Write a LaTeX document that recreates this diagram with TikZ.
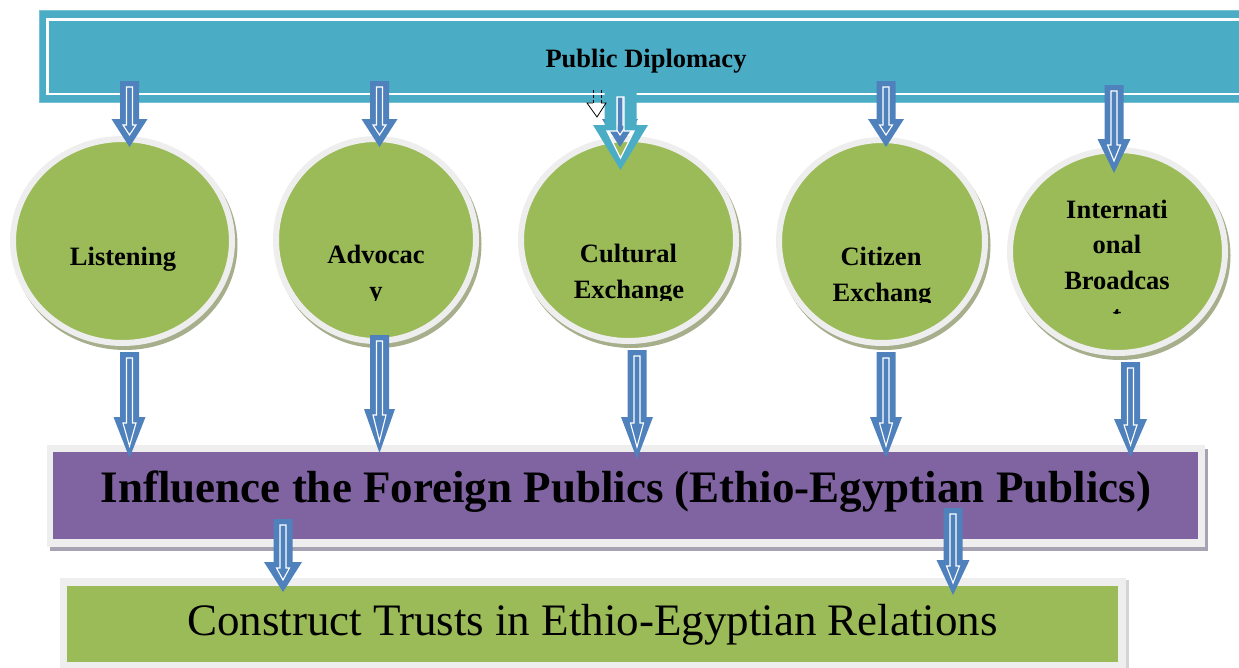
\documentclass[tikz,border=0pt]{standalone}
\usepackage{fontspec}
\setmainfont{Liberation Serif}
\usetikzlibrary{shapes.geometric}
\definecolor{tealbox}{HTML}{4BACC6}
\definecolor{arrowblue}{HTML}{4F81BD}
\definecolor{grn}{HTML}{9BBB59}
\definecolor{purp}{HTML}{8064A2}
\definecolor{ringgray}{HTML}{EEEEEE}
\definecolor{cshadow}{HTML}{A6AE8C}
\definecolor{pshadow}{HTML}{A8A3B3}
\definecolor{gshadow}{HTML}{D4D4D4}
\tikzset{
  circ/.style={ellipse, fill=grn, draw=ringgray, line width=6pt, inner sep=0pt, outer sep=0pt},
  lbl/.style={anchor=base, inner sep=0pt, font=\bfseries\fontsize{26.5}{30}\selectfont},
  bigbold/.style={anchor=base, inner sep=0pt, font=\bfseries\fontsize{45}{50}\selectfont},
  bigreg/.style={anchor=base, inner sep=0pt, font=\fontsize{45}{50}\selectfont},
  plainbox/.style={inner sep=0pt, outer sep=0pt},
}
% cx, ytop, yhead, ytip, head half width
\newcommand{\darrow}[5]{%
  \fill[arrowblue] ({#1-9.5},#2) -- ({#1+9.5},#2) -- ({#1+9.5},#3) -- ({#1+#5},#3) -- (#1,#4) -- ({#1-#5},#3) -- ({#1-9.5},#3) -- cycle;
  \draw[white, line width=1.1pt, line join=miter] ({#1-3},{#2+6}) -- ({#1+3},{#2+6}) -- ({#1+3},{#3+6}) -- ({#1+6.5},{#3+6}) -- (#1,{#4-12}) -- ({#1-6.5},{#3+6}) -- ({#1-3},{#3+6}) -- cycle;
}
% name, cx, cy, rx, ry (green radii)
\newcommand{\bubble}[5]{%
  \fill[cshadow] ({#2+2.5},{#3+4}) ellipse [x radius={#4+6}, y radius={#5+6}];
  \node[circ, minimum width={2*(#4+3)}, minimum height={2*(#5+3)}] (#1) at (#2,#3) {};
}
\begin{document}
\begin{tikzpicture}[x=1pt,y=-1pt]
\path[use as bounding box] (0,0) rectangle (1239,667);
\clip (0,0) rectangle (1239,667);

% ---- top box
\node[plainbox, fill=tealbox, draw=tealbox!75!white, line width=0.6pt, minimum width=1230pt, minimum height=92pt, anchor=north west] (PD) at (39,10) {};
\draw[white, line width=2.5pt] (47.5,19.5) rectangle (1290,94);
\node[lbl] (pdt) at (646,67) {Public Diplomacy};

% ---- circles
\bubble{L}{122.5}{241}{106.5}{99}
\bubble{A}{376}{240}{97}{98}
\bubble{C}{628.5}{240}{104.5}{98}
\bubble{Z}{882}{241.5}{100}{98.5}
\bubble{I}{1117.5}{251.5}{104.5}{98.5}

\node[lbl] (Lt) at (123,265) {Listening};
\begin{scope}
  \clip (260,150) rectangle (490,300);
  \node[lbl] (At1) at (376,263) {Advocac};
  \node[lbl] (At2) at (376,299) {y};
\end{scope}
\begin{scope}
  \clip (510,150) rectangle (750,300);
  \node[lbl] (Ct1) at (628.5,262) {Cultural};
  \node[lbl] (Ct2) at (629,298) {Exchange};
\end{scope}
\begin{scope}
  \clip (770,150) rectangle (1000,302);
  \node[lbl] (Zt1) at (881,265) {Citizen};
  \node[lbl] (Zt2) at (882,301) {Exchang};
\end{scope}
\begin{scope}
  \clip (1000,150) rectangle (1235,313);
  \node[lbl] (It1) at (1117,218) {Internati};
  \node[lbl] (It2) at (1117,253.5) {onal};
  \node[lbl] (It3) at (1117,289) {Broadcas};
  \node[lbl] (It4) at (1117,324.5) {t};
\end{scope}

% ---- purple box
\fill[pshadow] (50,449) rectangle (1208,551);
\fill[ringgray] (47,445) rectangle (1205,547);
\node[plainbox, fill=purp, minimum width=1145pt, minimum height=87pt] (INF) at (625.5,495.5) {};
\node[bigbold] (inft) at (626,502) {Influence the Foreign Publics (Ethio-Egyptian Publics)};

% ---- green box
\fill[gshadow] (62,580) rectangle (1129,672);
\fill[ringgray] (60,578) rectangle (1126,670);
\node[plainbox, fill=grn, minimum width=1051pt, minimum height=76pt] (CT) at (592.5,624) {};
\node[bigreg] (ctt) at (592.5,635) {Construct Trusts in Ethio-Egyptian Relations};

% ---- arrows from Public Diplomacy
\darrow{129.5}{81}{119}{147}{18}
\darrow{379.5}{81}{119}{147}{18}
\darrow{620}{90}{119}{147}{18}
\darrow{886}{81}{119}{147}{18}
\darrow{1114}{85}{139}{173}{16.5}
% teal arrow over the Cultural Exchange arrow
\fill[tealbox, even odd rule] (604.5,90) -- (636.5,90) -- (636.5,125) -- (648,125) -- (620.5,170) -- (593,125) -- (604.5,125) -- cycle
  (617,97) -- (624,97) -- (624,131) -- (634,131) -- (620.5,158) -- (607,131) -- (617,131) -- cycle;
\draw[white, line width=1.2pt] (617,97) -- (624,97) -- (624,131) -- (634,131) -- (620.5,158) -- (607,131) -- (617,131) -- cycle;
% small outlined arrow
\draw[black, densely dashed, line width=0.6pt] (593,90) -- (593,103) (601,90) -- (601,103);
\filldraw[fill=white, draw=black, line width=0.8pt] (593,103) -- (587,103) -- (597,117) -- (606,103) -- (601,103);

% ---- arrows from circles to the purple box
\darrow{129.5}{352}{417}{458}{16}
\darrow{379.5}{335}{409}{453}{15.5}
\darrow{637}{350}{417}{459}{16}
\darrow{886}{352}{417}{458}{16}
\darrow{1130.5}{362}{419}{457}{16.5}

% ---- arrows from purple box to green box
\darrow{283}{519}{562}{592}{19}
\darrow{953}{508}{560}{595}{16.5}
\end{tikzpicture}
\end{document}
